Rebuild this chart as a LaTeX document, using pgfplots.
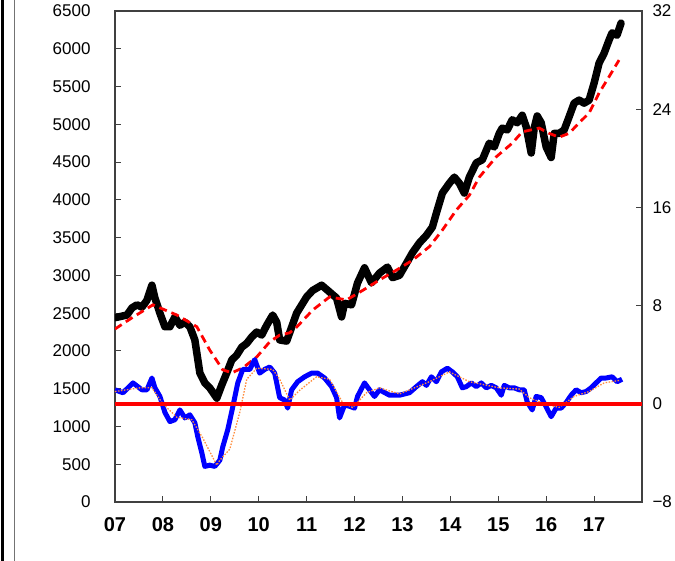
\documentclass[border=0pt]{standalone}
\usepackage{pgfplots}
\pgfplotsset{compat=1.18}
\usepackage{fontspec}
\setmainfont{Liberation Sans}
\definecolor{oran}{RGB}{255,140,60}
\begin{document}
\begin{tikzpicture}
\pgfplotsset{
  common/.style={
    width=527pt, height=491pt, scale only axis,
    xmin=0, xmax=132,
    axis line style={draw=black!75, line width=1.4pt},
    tick style={draw=black!75, line width=1pt},
    tick align=inside, major tick length=6pt,
    /pgf/number format/assume math mode=true,
    yticklabel style={font=\fontsize{17}{17}\selectfont},
  }
}
\begin{axis}[common,
  ymin=0, ymax=6500,
  ytick={0,500,...,6500},
  yticklabels={0,500,1000,1500,2000,2500,3000,3500,4000,4500,5000,5500,6000,6500},
  yticklabel style={xshift=-21pt},
  ytick pos=left, xtick pos=bottom,
  xtick={0,12,...,120},
  xticklabels={07,08,09,10,11,12,13,14,15,16,17},
  xticklabel style={font=\fontsize{20}{20}\selectfont\bfseries, yshift=-12pt},
]
\coordinate (BL) at (rel axis cs:0,0);
\coordinate (TR) at (rel axis cs:1,1);
\addplot[black, line width=7.5pt, line join=round, line cap=round] coordinates {
(0,2440) (3,2475) (4.25,2570) (5.5,2610) (6.75,2580) (8,2670) (9.25,2870) (10,2700)
(11.25,2500) (12.5,2320) (13.75,2320) (15,2450) (16.25,2340) (17.5,2380) (18.75,2320)
(20,2145) (21.25,1710) (22.5,1575) (23.75,1510) (25.5,1375) (26.75,1550) (28,1710)
(29.25,1880) (30.5,1945) (31.75,2050) (33,2100) (34.25,2185) (35.5,2250) (36.75,2210)
(38,2340) (39.5,2475) (40.5,2380) (41.25,2145) (43,2130) (45.5,2500) (48,2715)
(49.5,2800) (51.75,2870) (53.75,2780) (55.5,2700) (56.75,2450) (57.5,2630) (59.25,2610)
(60.75,2900) (62.5,3100) (64.25,2900) (66.25,3030) (68.25,3110) (69.5,2970) (71.25,3000)
(73,3160) (74.5,3300) (76.25,3430) (78,3530) (79.5,3640) (80.5,3825) (82,4090)
(83.75,4220) (85,4300) (86.25,4220) (87.5,4090) (88.75,4300) (90.5,4490) (92,4530)
(93.75,4750) (95,4700) (96.25,4880) (97,4950) (98.25,4925) (99.5,5060) (100.75,5020)
(102,5120) (103,4965) (104.25,4620) (105,4950) (105.75,5110) (106.75,5020) (108,4700)
(109.25,4560) (110,4880) (111.25,4880) (112.5,4925) (113.75,5100) (115,5280)
(116.25,5320) (117.5,5280) (118.75,5320) (120,5545) (121.25,5810) (122.5,5940)
(123.75,6115) (124.5,6210) (125.75,6180) (126.75,6340)
};
\addplot[red, line width=2.8pt, dash pattern=on 8pt off 5pt] coordinates {
(0,2290) (4,2430) (9.5,2610) (15.5,2475) (20.5,2320) (23.75,2010) (27,1750) (29.25,1710)
(32,1775) (35.5,1920) (38.75,2120) (41.25,2210) (43.75,2240) (45.5,2315) (49.5,2540)
(53.75,2715) (58,2675) (62,2800) (66.25,2940) (70.5,3070) (74.5,3200) (78.75,3380)
(82,3600) (85.5,3865) (88.75,4060) (91.25,4300) (95.5,4570) (99.5,4750) (102,4900)
(106.25,4950) (108.75,4880) (111.25,4830) (113.75,4880) (116.25,5020) (118.75,5150)
(121.25,5415) (123.75,5630) (126.25,5850)
};
\end{axis}
\begin{axis}[common,
  ymin=-8, ymax=32,
  ytick={-8,0,8,16,24,32},
  yticklabels={−8,0,8,16,24,32},
  yticklabel style={xshift=7pt},
  axis y line*=right, axis x line=none,
]
\addplot[blue, line width=5pt, line join=round] coordinates {
(0,1.14) (2,0.9) (4.5,1.7) (6.75,1.14) (8,1.14) (9.25,2.1) (10,1.3) (11.25,0.6)
(12.5,-0.7) (13.75,-1.45) (15,-1.3) (16.25,-0.5) (17.5,-1.15) (18.75,-0.9) (20,-1.55)
(20.75,-2.7) (21.75,-4.0) (22.5,-5.1) (23.75,-5.0) (25,-5.1) (26.25,-4.6) (27,-3.5)
(28.25,-2.1) (29.5,-0.25) (30.75,1.7) (32,2.8) (33.75,2.8) (35,3.6) (36.25,2.5)
(37.5,2.8) (38.75,3.0) (40,2.5) (41.25,0.5) (42.5,0.3) (43.25,-0.35) (44.25,1.14)
(45.75,1.8) (47.5,2.2) (49.25,2.5) (50.75,2.5) (52.5,2.1) (54.25,1.4) (55.5,0.5)
(56.25,-1.15) (57.5,-0.1) (58.75,-0.2) (60,-0.35) (60.75,0.6) (62.5,1.7) (63.75,1.14)
(65,0.6) (66.25,1.14) (68.75,0.7) (71.25,0.7) (73.75,0.9) (75.5,1.4) (77,1.8) (78,1.5)
(79.25,2.2) (80.5,1.8) (81.75,2.6) (83.25,2.9) (84.5,2.6) (85.75,2.2) (87,1.3) (88,1.4)
(89.25,1.7) (90.5,1.4) (91.75,1.7) (93,1.3) (94.25,1.5) (95.5,1.3) (96.75,0.7)
(97.5,1.5) (98.75,1.3) (100,1.3) (101.25,1.14) (102.5,1.14) (103.25,0.15) (104.5,-0.5)
(105.5,0.6) (106.75,0.5) (108,-0.25) (109.25,-1.05) (110.5,-0.35) (111.75,-0.35)
(113,0.1) (114.25,0.7) (115.5,1.14) (116.75,0.9) (118,1.0) (119.25,1.3) (120.5,1.7)
(121.75,2.1) (123,2.1) (124.5,2.2) (125.75,1.8) (127,2.0)
};
\addplot[oran, line width=1.3pt, dash pattern=on 1.5pt off 1.5pt] coordinates {
(0,1.0) (6.25,1.3) (9.25,1.3) (12,0.0) (15.5,-1.1) (19.25,-1.3) (22,-2.8) (25.5,-5.0)
(26.25,-4.6) (28.75,-3.7) (31.25,-0.7) (33,2.0) (35.5,2.9) (39.5,2.8) (41.25,2.0)
(43.75,0.3) (46.25,1.1) (50.5,2.2) (53.75,2.0) (57,0.1) (59.5,-0.3) (63,0.9) (66.25,1.3)
(71.25,0.8) (78.75,1.8) (83.75,2.6) (88.75,1.8) (96.25,1.3) (101.25,1.2) (103.75,0.5)
(107.5,0.0) (111.25,-0.3) (115,0.6) (118.75,1.0) (122.5,1.7) (126.25,1.9)
};
\addplot[red, line width=4.5pt] coordinates {(0,0) (132,0)};
\end{axis}
\draw[black, line width=2.5pt] ([xshift=-112.5pt,yshift=-70pt]BL) -- ([xshift=-112.5pt,yshift=20pt]BL |- TR);
\draw[black!55, line width=1.2pt] ([xshift=-100.5pt,yshift=-70pt]BL) -- ([xshift=-100.5pt,yshift=20pt]BL |- TR);
\pgfresetboundingbox
\path[use as bounding box] ([xshift=-115pt,yshift=-59pt]BL) rectangle ([xshift=33pt,yshift=11pt]TR);
\end{tikzpicture}
\end{document}
